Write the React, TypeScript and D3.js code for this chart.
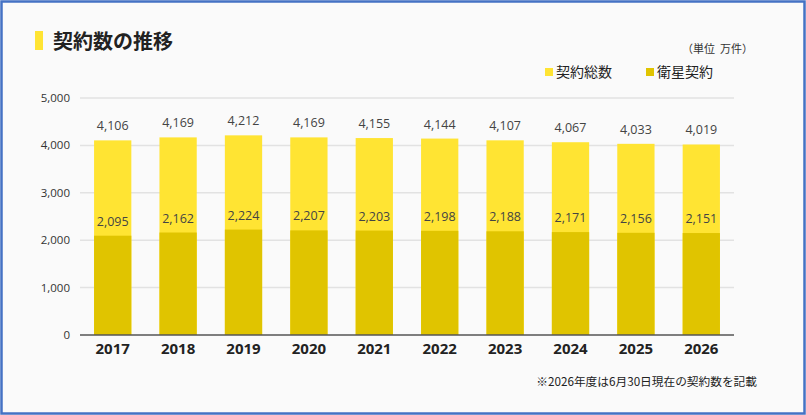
import React from "react";
import * as d3 from "d3";

const years = ["2017", "2018", "2019", "2020", "2021", "2022", "2023", "2024", "2025", "2026"];
const totalContracts = [4106, 4169, 4212, 4169, 4155, 4144, 4107, 4067, 4033, 4019];
const satelliteContracts = [2095, 2162, 2224, 2207, 2203, 2198, 2188, 2171, 2156, 2151];
const yTicks = [0, 1000, 2000, 3000, 4000, 5000];

const W = 806;
const H = 415;
const LIGHT = "#FFE433";
const DARK = "#E0C400";
const numFont = "'Open Sans', sans-serif";
const jpFont = "'Noto Sans CJK JP', sans-serif";

export default function App() {
  const x = d3.scaleBand<string>().domain(years).range([80, 734]).paddingInner(0.43).paddingOuter(0.215);
  const y = d3.scaleLinear().domain([0, 5000]).range([335, 98]);
  const fmt = d3.format(",");
  const bw = x.bandwidth();

  return (
    <div style={{ position: "fixed", left: 0, top: 0 }}>
      <svg width={W} height={H} style={{ display: "block" }}>
        <rect x={0} y={0} width={W} height={H} fill="#fafafa" />
        <rect x={1.5} y={1.5} width={W - 3} height={H - 3} fill="none" stroke="#4472C4" strokeWidth={2.5} />
        {/* title */}
        <rect x={35} y={31} width={8} height={19} fill={LIGHT} />
        <text x={53} y={49} fontFamily={jpFont} fontSize={20} fontWeight={700} fill="#222">契約数の推移</text>
        {/* unit */}
        <text x={753} y={53} textAnchor="end" fontFamily={jpFont} fontSize={11} fill="#333" style={{ whiteSpace: "pre" }}>（単位  万件）</text>
        {/* legend */}
        <rect x={545} y={68} width={8} height={8} fill={LIGHT} />
        <text x={556} y={77} fontFamily={jpFont} fontSize={14} fill="#222">契約総数</text>
        <rect x={646} y={68} width={8} height={8} fill={DARK} />
        <text x={657} y={77} fontFamily={jpFont} fontSize={14} fill="#222">衛星契約</text>
        {/* grid */}
        {yTicks.map((t) => (
          <g key={t}>
            {t > 0 && <line x1={80} x2={734} y1={y(t)} y2={y(t)} stroke="#e2e2e2" strokeWidth={1.5} />}
            <text x={70} y={y(t) + 4} textAnchor="end" fontFamily={numFont} fontSize={11.5} fill="#333">
              {fmt(t)}
            </text>
          </g>
        ))}
        {/* bars */}
        {years.map((yr, i) => {
          const x0 = x(yr)!;
          const cx = x0 + bw / 2;
          return (
            <g key={yr}>
              <rect x={x0} y={y(totalContracts[i])} width={bw} height={y(0) - y(totalContracts[i])} fill={LIGHT} />
              <rect x={x0} y={y(satelliteContracts[i])} width={bw} height={y(0) - y(satelliteContracts[i])} fill={DARK} />
              <text x={cx} y={y(totalContracts[i]) - 10} textAnchor="middle" fontFamily={numFont} fontSize={12.5} fill="#444">
                {fmt(totalContracts[i])}
              </text>
              <text x={cx} y={y(satelliteContracts[i]) - 10} textAnchor="middle" fontFamily={numFont} fontSize={12.5} fill="#444">
                {fmt(satelliteContracts[i])}
              </text>
              <text x={cx} y={354} textAnchor="middle" fontFamily={numFont} fontSize={15} fontWeight={700} fill="#222">
                {yr}
              </text>
            </g>
          );
        })}
        <line x1={80} x2={734} y1={y(0)} y2={y(0)} stroke="#555" strokeWidth={1.5} />
        {/* note */}
        <text x={757} y={386} textAnchor="end" fontFamily={jpFont} fontSize={11.7} fill="#222">※2026年度は6月30日現在の契約数を記載</text>
      </svg>
    </div>
  );
}
